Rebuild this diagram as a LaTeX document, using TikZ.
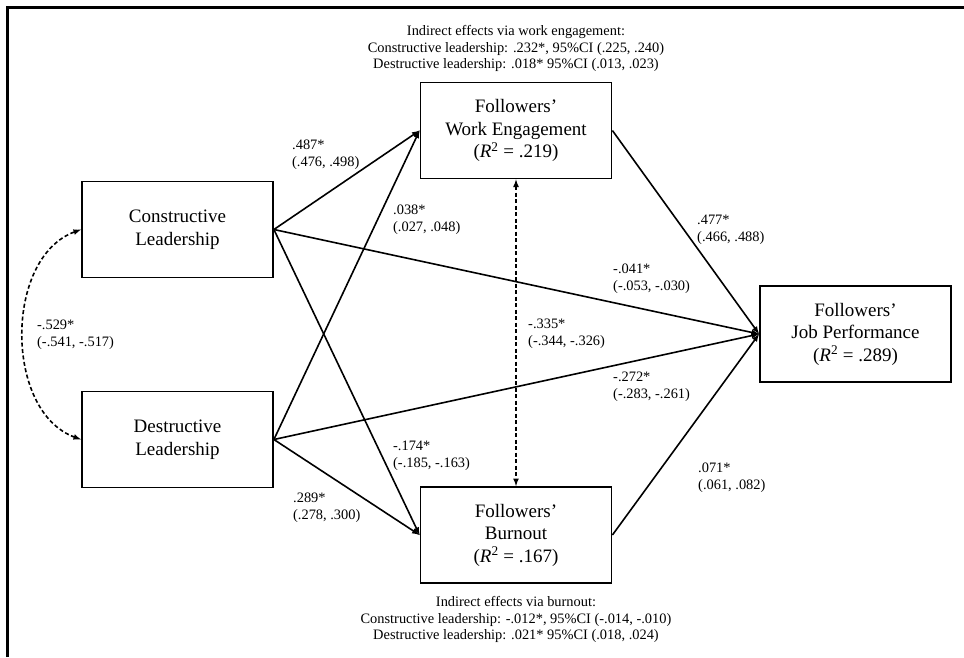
\documentclass[tikz,border=0pt]{standalone}
\usepackage{fontspec}
\setmainfont{Liberation Serif}
\usetikzlibrary{arrows,calc}

\begin{document}
\begin{tikzpicture}[x=1pt,y=-1pt,
  box/.style={draw,line width=1.8pt,minimum width=191pt,minimum height=96pt,
    align=center,inner sep=0pt,font=\fontsize{19}{22.5}\selectfont},
  lbl/.style={align=left,anchor=west,inner sep=0pt,font=\fontsize{14.4}{17}\selectfont},
  note/.style={align=center,inner sep=0pt,font=\fontsize{14.4}{16.8}\selectfont},
  eff/.style={line width=1.6pt,-latex},
  cov/.style={line width=1.6pt,latex-latex,dash pattern=on 4pt off 2.5pt}]
\useasboundingbox (0,0) rectangle (964,657);
\draw[line width=3pt] (7,657) -- (7,7) -- (964,7);

\node[box] (CL) at (177.5,229.5) {Constructive\\Leadership};
\node[box] (DL) at (177.5,439.5) {Destructive\\Leadership};
\node[box] (WE) at (516,130.5) {Followers'\\Work Engagement\\(\textit{R}\textsuperscript{2} = .219)};
\node[box] (BO) at (516,535) {Followers'\\Burnout\\(\textit{R}\textsuperscript{2} = .167)};
\node[box] (JP) at (855.5,334) {Followers'\\Job Performance\\(\textit{R}\textsuperscript{2} = .289)};

\draw[eff] (CL.east) -- (WE.west);
\draw[eff] (DL.east) -- (WE.west);
\draw[eff] (CL.east) -- (BO.west);
\draw[eff] (DL.east) -- (BO.west);
\draw[eff] (CL.east) -- (JP.west);
\draw[eff] (DL.east) -- (JP.west);
\draw[eff] (WE.east) -- (JP.west);
\draw[eff] (BO.east) -- (JP.west);

\draw[cov] (WE.south) -- (BO.north);
\draw[cov] (DL.west) to[bend left=70] (CL.west);

\node[lbl] (c1) at (292,155) {.487*\\(.476, .498)};
\node[lbl] (c2) at (393,220) {.038*\\(.027, .048)};
\node[lbl] (c3) at (613,279) {-.041*\\(-.053, -.030)};
\node[lbl] (c4) at (528,334) {-.335*\\(-.344, -.326)};
\node[lbl] (c5) at (613,387) {-.272*\\(-.283, -.261)};
\node[lbl] (c6) at (393,456) {-.174*\\(-.185, -.163)};
\node[lbl] (c7) at (293,508) {.289*\\(.278, .300)};
\node[lbl] (c8) at (697,230) {.477*\\(.466, .488)};
\node[lbl] (c9) at (698,478) {.071*\\(.061, .082)};
\node[lbl] (c10) at (37,335) {-.529*\\(-.541, -.517)};

\node[note] (IE1) at (516,48.5) {Indirect effects via work engagement:\\
  Constructive leadership: .232*, 95\%CI (.225, .240)\\
  Destructive leadership: .018* 95\%CI (.013, .023)};
\node[note] (IE2) at (516,619.5) {Indirect effects via burnout:\\
  Constructive leadership: -.012*, 95\%CI (-.014, -.010)\\
  Destructive leadership: .021* 95\%CI (.018, .024)};

\end{tikzpicture}
\end{document}
